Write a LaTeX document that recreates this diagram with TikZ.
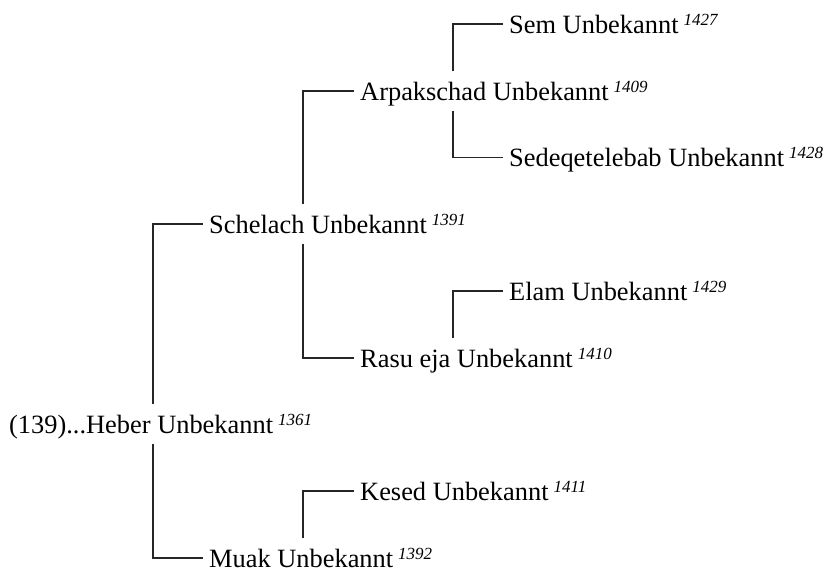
\documentclass[tikz,border=0pt]{standalone}
\usepackage{fontspec}
\setmainfont{Liberation Serif}
\newcommand{\gennum}[1]{\hspace{5pt}\raisebox{8pt}{\fontsize{17pt}{18pt}\selectfont\itshape #1}}
\begin{document}
\begin{tikzpicture}[x=1pt,y=-1pt,
  person/.style={anchor=west, inner xsep=6pt, inner ysep=10.5pt, text height=18pt, text depth=0pt,
    font=\fontsize{26.4pt}{30pt}\selectfont, text=black},
  link/.style={draw=black!85, line width=1.2pt}]
\useasboundingbox (0,0) rectangle (829,574);
\node[person] (heber) at (3,424) {(139)...Heber Unbekannt\gennum{1361}};
\node[person] (schelach) at (203,224) {Schelach Unbekannt\gennum{1391}};
\node[person] (muak) at (203,558) {Muak Unbekannt\gennum{1392}};
\node[person] (arpak) at (354,91) {Arpakschad Unbekannt\gennum{1409}};
\node[person] (rasu) at (354,358) {Rasu eja Unbekannt\gennum{1410}};
\node[person] (kesed) at (354,491) {Kesed Unbekannt\gennum{1411}};
\node[person] (sem) at (503,24) {Sem Unbekannt\gennum{1427}};
\node[person] (sedeq) at (503,157.5) {Sedeqetelebab Unbekannt\gennum{1428}};
\node[person] (elam) at (503,291) {Elam Unbekannt\gennum{1429}};
\draw[link] (heber.north -| schelach.west) ++(-50,0) |- (schelach.west);
\draw[link] (heber.south -| muak.west) ++(-50,0) |- (muak.west);
\draw[link] (schelach.north -| arpak.west) ++(-51,0) |- (arpak.west);
\draw[link] (schelach.south -| rasu.west) ++(-51,0) |- (rasu.west);
\draw[link] (muak.north -| kesed.west) ++(-51,0) |- (kesed.west);
\draw[link] (arpak.north -| sem.west) ++(-50,0) |- (sem.west);
\draw[link] (arpak.south -| sedeq.west) ++(-50,0) |- (sedeq.west);
\draw[link] (rasu.north -| elam.west) ++(-50,0) |- (elam.west);
\end{tikzpicture}
\end{document}
